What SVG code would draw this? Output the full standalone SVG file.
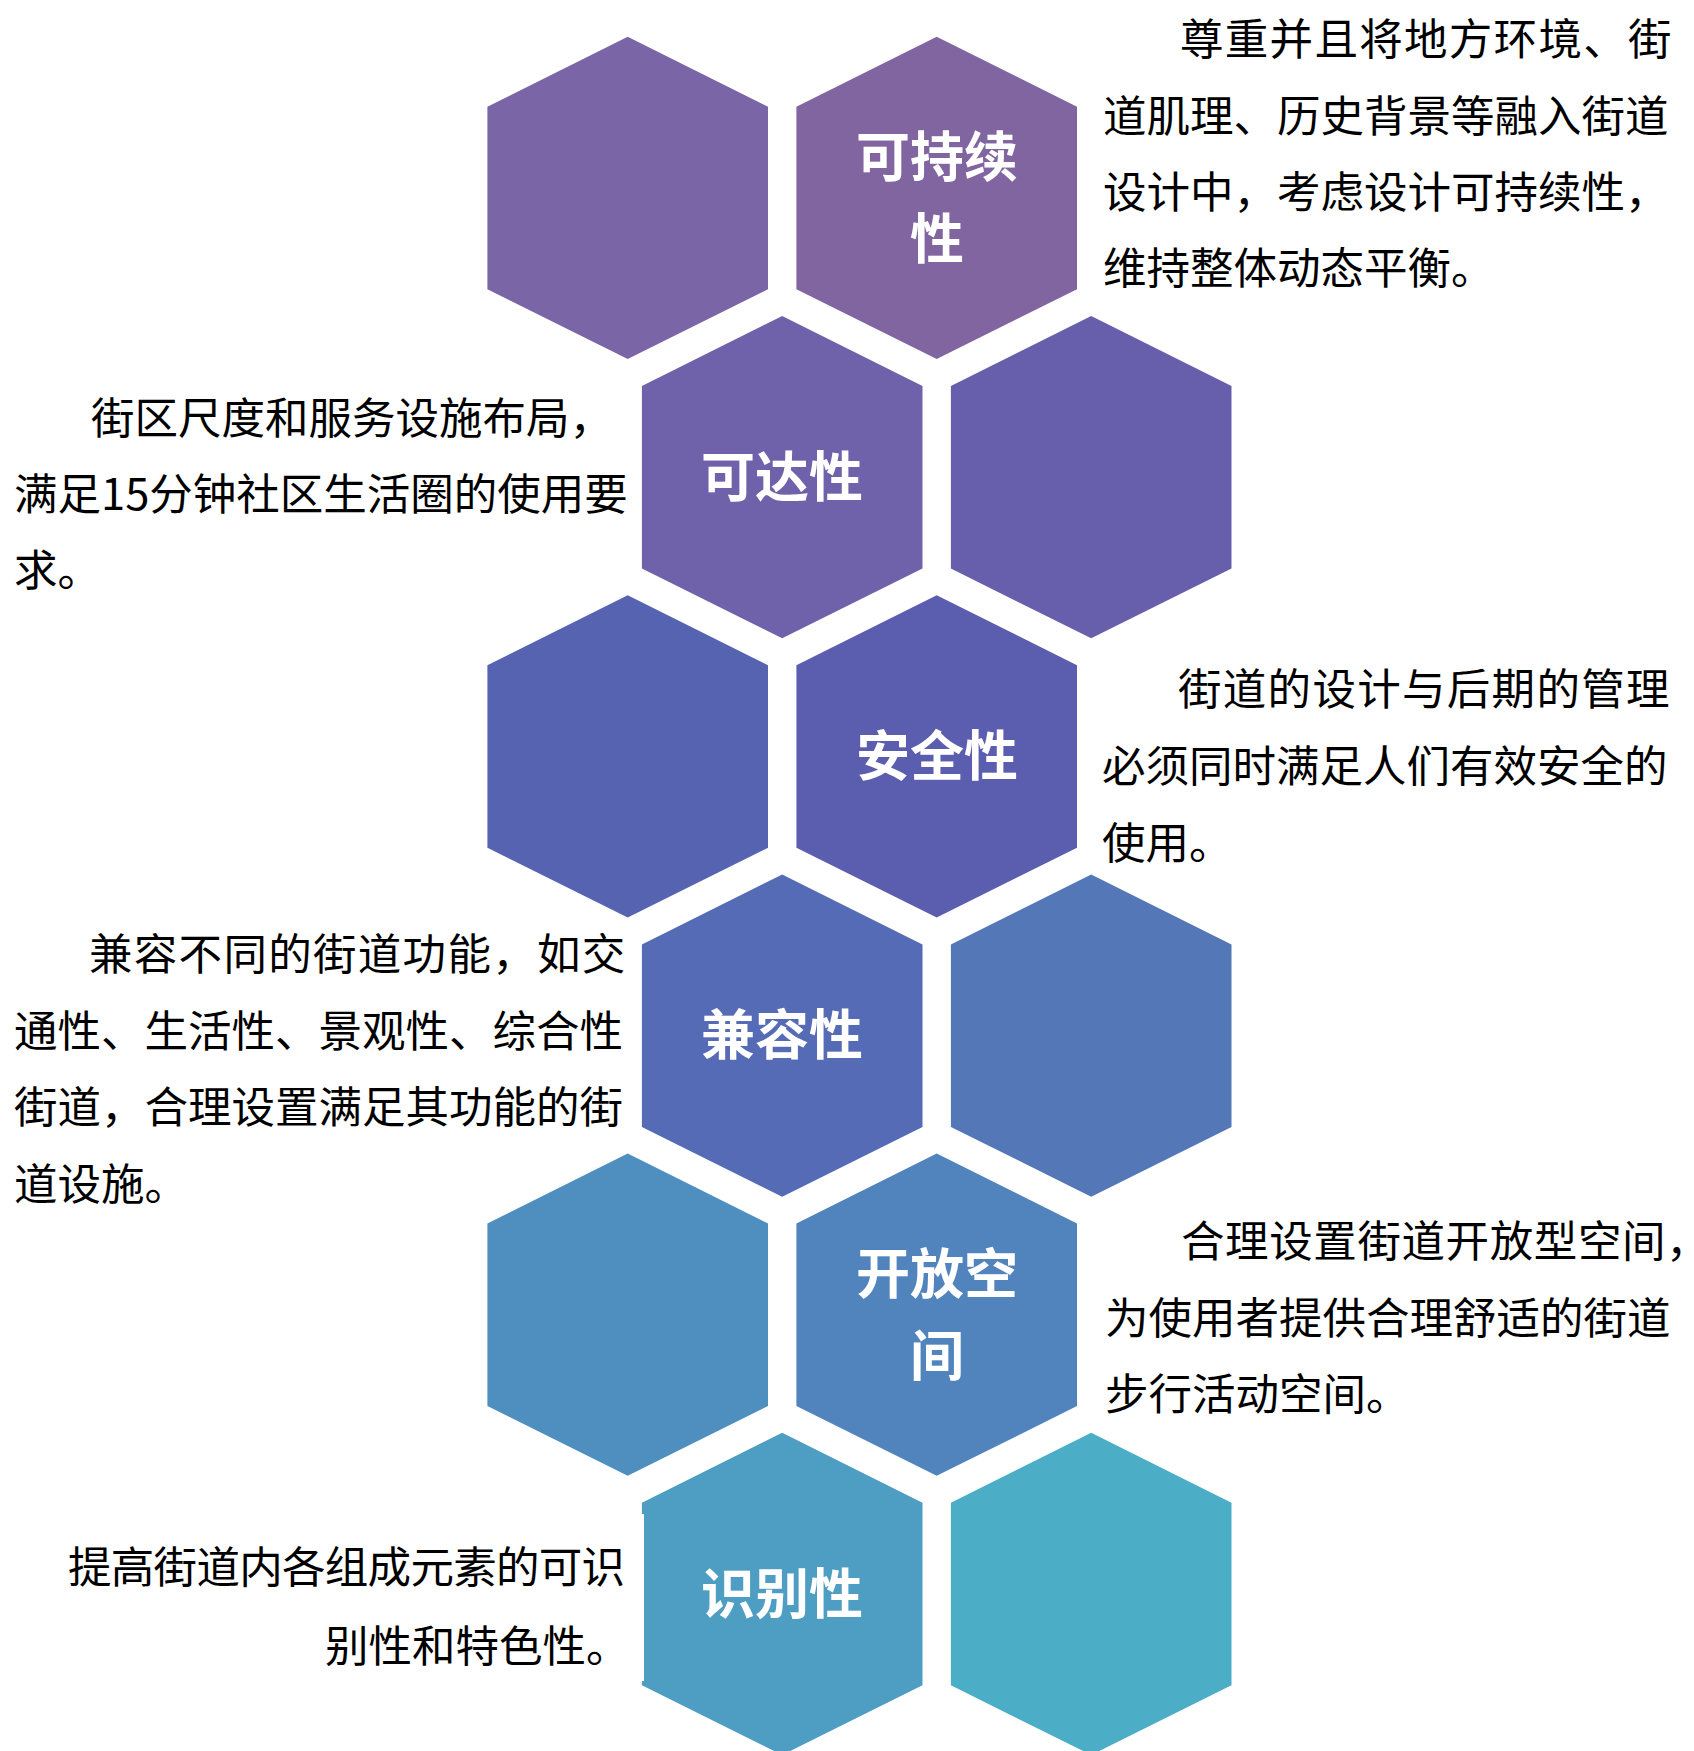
<svg xmlns="http://www.w3.org/2000/svg" width="1694" height="1751" viewBox="0 0 1694 1751">
<style>
.body{font-family:"Noto Sans CJK SC","Microsoft YaHei",sans-serif;font-size:43.5px;fill:#000}
.lbl{font-family:"Noto Sans CJK SC","Microsoft YaHei",sans-serif;font-size:54px;font-weight:700;fill:#fff;text-anchor:middle}
</style>
<defs>
<path id="hex" d="M0,0 L140.3,70 L140.3,252.6 L0,322.3 L-140.3,252.6 L-140.3,70 Z"/>
</defs>
<rect width="1694" height="1751" fill="#fff"/>
<g id="connectors"></g>
<g id="hex-r1-left"><use href="#hex" transform="translate(627.7,36.7)" fill="#7A65A7"/></g>
<g id="node-sustainable">
<use href="#hex" transform="translate(936.7,36.7)" fill="#8065A1"/>
<text class="lbl" x="937" y="177">可持续</text>
<text class="lbl" x="937" y="258.5">性</text>
</g>
<g id="node-accessible">
<use href="#hex" transform="translate(782.2,316)" fill="#7062AA"/>
<text class="lbl" x="782" y="497">可达性</text>
</g>
<g id="hex-r2-right"><use href="#hex" transform="translate(1091.2,316)" fill="#675EAC"/></g>
<g id="hex-r3-left"><use href="#hex" transform="translate(627.7,595.2)" fill="#5563B1"/></g>
<g id="node-safety">
<use href="#hex" transform="translate(936.7,595.2)" fill="#5B5EAF"/>
<text class="lbl" x="937" y="776">安全性</text>
</g>
<g id="node-compatible">
<use href="#hex" transform="translate(782.2,874.4)" fill="#556BB5"/>
<text class="lbl" x="782" y="1055">兼容性</text>
</g>
<g id="hex-r4-right"><use href="#hex" transform="translate(1091.2,874.4)" fill="#5377B7"/></g>
<g id="hex-r5-left"><use href="#hex" transform="translate(627.7,1153.5)" fill="#4F8FBF"/></g>
<g id="node-open-space">
<use href="#hex" transform="translate(936.7,1153.5)" fill="#5184BC"/>
<text class="lbl" x="937" y="1294">开放空</text>
<text class="lbl" x="937" y="1375.5">间</text>
</g>
<g id="node-identity">
<use href="#hex" transform="translate(782.2,1432.7)" fill="#4E9EC3"/>
<rect x="641" y="1514" width="3" height="167" fill="#fff"/>
<text class="lbl" x="782" y="1614">识别性</text>
</g>
<g id="hex-r6-right"><use href="#hex" transform="translate(1091.2,1432.7)" fill="#4BADC6"/></g>
<g id="desc-sustainable">
<text class="body" x="1180" y="55" letter-spacing="1.3">尊重并且将地方环境、街</text>
<text class="body" x="1103" y="131.5">道肌理、历史背景等融入街道</text>
<text class="body" x="1103" y="208">设计中，考虑设计可持续性，</text>
<text class="body" x="1103" y="284">维持整体动态平衡。</text>
</g>
<g id="desc-accessible">
<text class="body" x="91" y="434">街区尺度和服务设施布局，</text>
<text class="body" x="14" y="510">满足15分钟社区生活圈的使用要</text>
<text class="body" x="14" y="586">求。</text>
</g>
<g id="desc-safety">
<text class="body" x="1178" y="705" letter-spacing="1.3">街道的设计与后期的管理</text>
<text class="body" x="1102" y="782">必须同时满足人们有效安全的</text>
<text class="body" x="1102" y="859">使用。</text>
</g>
<g id="desc-compatible">
<text class="body" x="89" y="970" letter-spacing="1.3">兼容不同的街道功能，如交</text>
<text class="body" x="14" y="1047">通性、生活性、景观性、综合性</text>
<text class="body" x="14" y="1123">街道，合理设置满足其功能的街</text>
<text class="body" x="14" y="1200">道设施。</text>
</g>
<g id="desc-open-space">
<text class="body" x="1181" y="1257" letter-spacing="0.6">合理设置街道开放型空间，</text>
<text class="body" x="1105" y="1334">为使用者提供合理舒适的街道</text>
<text class="body" x="1105" y="1410">步行活动空间。</text>
</g>
<g id="desc-identity">
<text class="body" x="68" y="1583" letter-spacing="-0.7">提高街道内各组成元素的可识</text>
<text class="body" x="325" y="1662">别性和特色性。</text>
</g>
</svg>
